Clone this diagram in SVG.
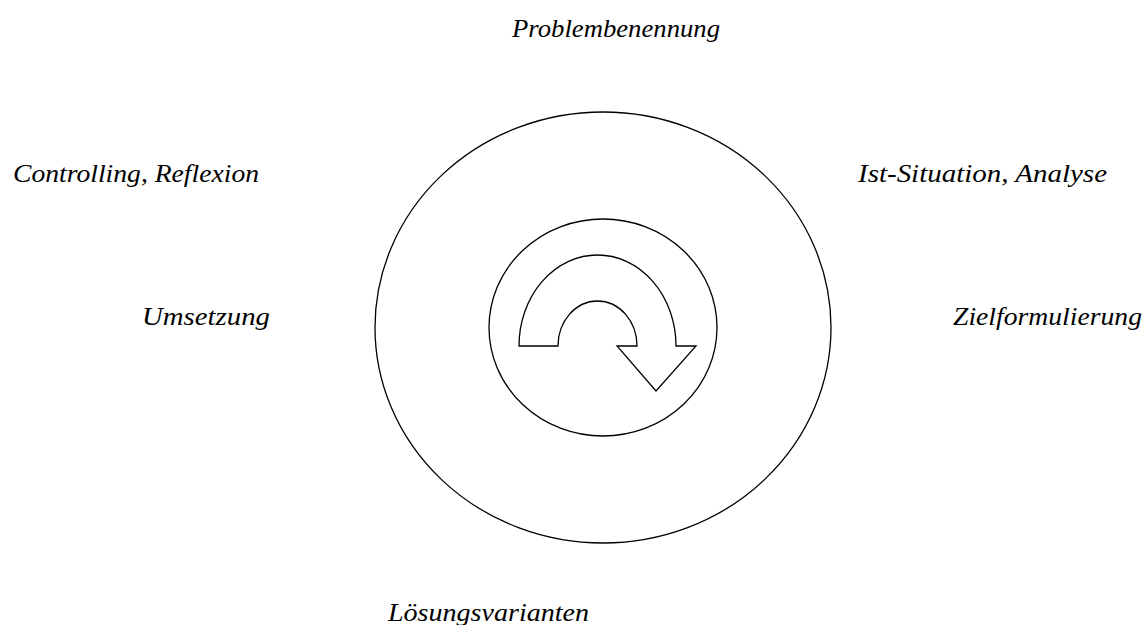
<svg xmlns="http://www.w3.org/2000/svg" width="1144" height="625" viewBox="0 0 1144 625">
<style>
.lbl{font-family:"Liberation Serif","DejaVu Serif",serif;font-style:italic;font-size:26px;fill:#000}
.shape{fill:none;stroke:#000;stroke-width:1.3}
</style>
<rect width="1144" height="625" fill="#fff"/>
<g id="outer-circle"><ellipse class="shape" cx="603" cy="327.5" rx="228" ry="215.5"/></g>
<g id="inner-circle"><ellipse class="shape" cx="603" cy="327.5" rx="114" ry="108.5"/></g>
<g id="cycle-arrow"><path class="shape" d="M519,346 L558,346 A39.5,45 0 0 1 637,346 L617,346 L656,391 L696,346 L676,346 A78.5,91 0 0 0 519,346 Z"/></g>
<g id="connectors"></g>
<g id="label-problembenennung"><text class="lbl" x="512" y="37" textLength="208" lengthAdjust="spacingAndGlyphs">Problembenennung</text></g>
<g id="label-ist"><text class="lbl" x="858" y="182" textLength="249" lengthAdjust="spacingAndGlyphs">Ist-Situation, Analyse</text></g>
<g id="label-ziel"><text class="lbl" x="953" y="325" textLength="189" lengthAdjust="spacingAndGlyphs">Zielformulierung</text></g>
<g id="label-loesung"><text class="lbl" x="388" y="621" textLength="201" lengthAdjust="spacingAndGlyphs">Lösungsvarianten</text></g>
<g id="label-umsetzung"><text class="lbl" x="142" y="325" textLength="128" lengthAdjust="spacingAndGlyphs">Umsetzung</text></g>
<g id="label-controlling"><text class="lbl" x="13" y="182" textLength="246" lengthAdjust="spacingAndGlyphs">Controlling, Reflexion</text></g>
</svg>
